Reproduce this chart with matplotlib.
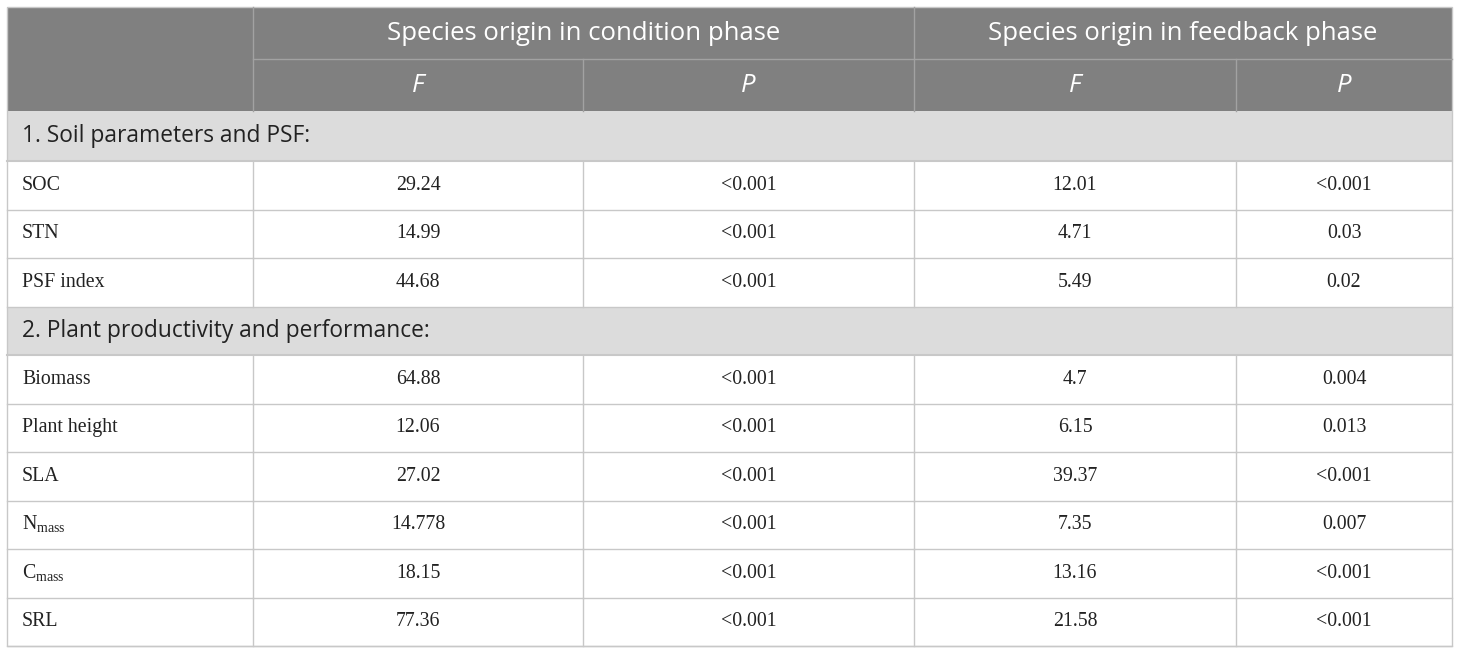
import matplotlib
matplotlib.use("Agg")
import matplotlib.pyplot as plt
from matplotlib.patches import Rectangle

plt.rcParams["mathtext.fontset"] = "custom"
plt.rcParams["mathtext.rm"] = "Liberation Serif"

group_titles = ["Species origin in condition phase", "Species origin in feedback phase"]
stat_labels = ["F", "P", "F", "P"]

section1 = "1. Soil parameters and PSF:"
rows1 = ["SOC", "STN", "PSF index"]
cond_F1 = ["29.24", "14.99", "44.68"]
cond_P1 = ["<0.001", "<0.001", "<0.001"]
feed_F1 = ["12.01", "4.71", "5.49"]
feed_P1 = ["<0.001", "0.03", "0.02"]

section2 = "2. Plant productivity and performance:"
rows2 = ["Biomass", "Plant height", "SLA", r"N$_{\mathrm{mass}}$", r"C$_{\mathrm{mass}}$", "SRL"]
cond_F2 = ["64.88", "12.06", "27.02", "14.778", "18.15", "77.36"]
cond_P2 = ["<0.001", "<0.001", "<0.001", "<0.001", "<0.001", "<0.001"]
feed_F2 = ["4.7", "6.15", "39.37", "7.35", "13.16", "21.58"]
feed_P2 = ["0.004", "0.013", "<0.001", "0.007", "<0.001", "<0.001"]

W, H = 1460, 654
fig = plt.figure(figsize=(W / 100, H / 100), dpi=100)
ax = fig.add_axes([0, 0, 1, 1])
ax.set_xlim(0, W)
ax.set_ylim(H, 0)
ax.axis("off")

col_x = [7, 253, 583, 914, 1236, 1452]
# row edges: two header rows, then section / body rows
heights = [52, 52, 50] + [48.5] * 10
edges = [7]
for h in heights:
    edges.append(edges[-1] + h)
top, bottom = edges[0], edges[-1]

head_bg = "#808080"
sec_bg = "#dcdcdc"
line_c = "#c8c8c8"
head_line = "#a2a2a2"
txt_c = "#222222"
sans = "Open Sans"
serif = "Liberation Serif"

def mid(i):
    return (edges[i] + edges[i + 1]) / 2

# header block
ax.add_patch(Rectangle((col_x[0], top), col_x[-1] - col_x[0], edges[2] - top, color=head_bg, lw=0))
for c in (1, 3):
    ax.plot([col_x[c], col_x[c]], [top, edges[2]], color=head_line, lw=1)
for c in (2, 4):
    ax.plot([col_x[c], col_x[c]], [edges[1], edges[2]], color=head_line, lw=1)
ax.plot([col_x[1], col_x[-1]], [edges[1], edges[1]], color=head_line, lw=1)

for k, t in enumerate(group_titles):
    xc = (col_x[1 + 2 * k] + col_x[3 + 2 * k]) / 2
    ax.text(xc, mid(0), t, ha="center", va="center", color="white",
            fontsize=18.5, family=sans)
for k, t in enumerate(stat_labels):
    xc = (col_x[1 + k] + col_x[2 + k]) / 2
    ax.text(xc, mid(1), t, ha="center", va="center", color="white",
            fontsize=18.5, family=sans, style="italic")

def draw_section(start, title, names, cols):
    ax.add_patch(Rectangle((col_x[0], edges[start]), col_x[-1] - col_x[0],
                           edges[start + 1] - edges[start], color=sec_bg, lw=0))
    ax.text(col_x[0] + 15, mid(start), title, ha="left", va="center",
            color=txt_c, fontsize=16.4, family=sans)
    for r, name in enumerate(names):
        i = start + 1 + r
        yc = mid(i)
        ax.text(col_x[0] + 15, yc, name, ha="left", va="center",
                color=txt_c, fontsize=14.3, family=serif)
        for c, vals in enumerate(cols):
            xc = (col_x[1 + c] + col_x[2 + c]) / 2
            ax.text(xc, yc, vals[r], ha="center", va="center",
                    color=txt_c, fontsize=14.3, family=serif)
        for c in range(1, 5):
            ax.plot([col_x[c], col_x[c]], [edges[i], edges[i + 1]], color=line_c, lw=1)
        ax.plot([col_x[0], col_x[-1]], [edges[i + 1], edges[i + 1]], color=line_c, lw=1)
    ax.plot([col_x[0], col_x[-1]], [edges[start + 1], edges[start + 1]], color=line_c, lw=1.5)

draw_section(2, section1, rows1, [cond_F1, cond_P1, feed_F1, feed_P1])
draw_section(6, section2, rows2, [cond_F2, cond_P2, feed_F2, feed_P2])

# outer border
ax.add_patch(Rectangle((col_x[0], top), col_x[-1] - col_x[0], bottom - top,
                       fill=False, ec=line_c, lw=1))

fig.savefig("out.png", dpi=100)
